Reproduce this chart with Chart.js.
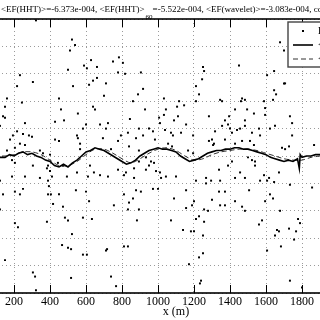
<!DOCTYPE html>
<html><head><meta charset="utf-8">
<script src="https://cdn.jsdelivr.net/npm/chart.js@4.4.1/dist/chart.umd.min.js"></script>
<style>
html,body{margin:0;padding:0;background:#fff;overflow:hidden;width:320px;height:320px;}
#wrap{position:relative;width:320px;height:320px;overflow:hidden;background:#fff;}
#c{position:absolute;left:-60px;top:0;}
</style></head>
<body><div id="wrap"><canvas id="c" width="450" height="320"></canvas></div>
<script>
// ---- data ----
const xRange = [0, 2200];
const xStep = 200;
const yRange = [-10, 10];   // EF, x 1e-3 (tick labels cropped in reference)
const yStep = 2;
const xLabel = 'x (m)';
const titleMain = '<EF(HHT)>=-6.373e-004, <EF(HHT)>';
const titleSub = '60';
const titleRest = '=-5.522e-004, <EF(wavelet)>=-3.083e-004, corr=0.87';
const seriesNames = ['EF(HHT)', '<EF(HHT)>60', '<EF(wavelet)>60'];

const efPoints = [
 [322,9.9],[522,8.5],[539,8.1],[511,7.7],[628,7.0],[589,6.6],[500,6.3],[605,6.4],[661,6.5],[233,5.9],
 [305,5.4],[217,5.1],[528,5.1],[617,5.2],[639,5.5],[661,5.7],[700,4.4],[161,4.2],[244,3.9],[450,4.2],
 [461,3.4],[639,3.6],[650,3.4],[150,3.6],[139,2.9],[150,2.8],[555,3.1],[261,2.4],[428,2.5],[478,2.6],
 [678,2.3],[600,2.3],[122,2.2],[217,1.8],[583,2.0],[250,1.6],[283,1.5],[300,1.4],[194,1.5],[178,1.2],
 [428,1.2],[450,1.1],[550,1.5],[567,0.9],[555,1.3],[694,1.3],[261,0.8],[233,0.9],[205,0.6],[161,0.4],
 [344,0.4],[361,0.2],[400,0.1],[567,0.5],[189,-0.3],[205,-0.5],[305,-0.7],[383,-0.9],[400,-1.1],[389,-0.7],
 [444,-0.5],[472,-0.7],[550,-1.2],[622,-0.7],[644,-1.2],[678,-1.4],[189,-1.5],[261,-1.5],[344,-1.6],[389,-1.8],
 [411,-1.5],[494,-1.5],[611,-1.5],[122,-1.8],[394,-2.2],[250,-2.4],[205,-2.6],[139,-2.8],[233,-2.8],[389,-2.8],
 [405,-2.8],[450,-2.8],[544,-2.5],[600,-2.6],[617,-3.3],[417,-3.5],[472,-3.7],[122,-3.9],[205,-4.9],[222,-5.2],
 [383,-4.8],[483,-4.5],[500,-4.7],[583,-4.5],[633,-4.6],[522,-5.7],[467,-6.5],[500,-6.7],[517,-6.8],[583,-7.2],
 [605,-7.2],[717,-6.8],[150,-7.6],[305,-8.5],[317,-8.8],[517,-8.9],[322,-9.8],
 [783,7.2],[750,6.9],[805,6.8],[711,5.3],[778,6.1],[817,6.0],[905,6.1],[1250,6.5],[1256,6.2],[1245,5.6],
 [917,4.9],[1211,5.1],[1228,4.5],[889,4.5],[1033,4.2],[861,4.0],[1117,4.0],[1145,3.7],[1106,3.6],[1211,4.0],
 [928,3.4],[1044,3.4],[1033,3.0],[1006,2.8],[1111,2.9],[1089,2.6],[844,2.7],[1011,2.4],[1156,2.3],[1283,2.9],
 [722,2.4],[711,2.0],[894,2.0],[950,2.0],[972,1.8],[1039,1.9],[1072,1.7],[794,1.5],[833,1.7],[917,1.5],
 [1083,1.5],[1128,1.7],[878,1.3],[1195,1.5],[778,1.1],[983,1.2],[1056,0.9],[1078,0.7],[1283,1.1],[1306,0.8],
 [739,0.5],[839,0.7],[894,0.4],[1167,0.4],[1195,0.2],[933,-0.1],[894,-0.4],[961,-0.4],[978,-0.5],[950,-0.7],
 [867,-0.9],[778,-1.0],[822,-1.2],[933,-1.0],[989,-1.1],[1011,-1.2],[811,-1.4],[1017,-1.6],[1044,-1.5],[1100,-1.5],
 [722,-1.5],[867,-1.6],[1267,-1.6],[1211,-1.8],[1267,-2.0],[1295,-1.8],[878,-2.5],[905,-2.6],[972,-2.4],[1000,-2.4],
 [1156,-2.5],[811,-2.8],[861,-3.1],[1089,-3.1],[839,-3.4],[755,-3.6],[1200,-3.3],[1156,-3.8],[1189,-3.6],[1256,-3.9],
 [1278,-4.0],[833,-3.9],[894,-3.9],[883,-4.7],[1072,-4.7],[1211,-4.6],[1228,-4.4],[1256,-4.8],[1139,-5.4],[1200,-5.5],
 [1183,-5.5],[1250,-5.8],[811,-6.6],[833,-6.6],[711,-6.9],[1250,-7.1],[1228,-7.4],[1172,-7.9],[739,-8.8],[767,-9.5],
 [1239,-9.1],[1233,-9.3],
 [1678,8.3],[1700,7.7],[1450,6.6],[1645,6.2],[1606,5.9],[1700,5.3],[1706,5.3],[1645,4.8],[1656,4.5],[1639,4.1],
 [1345,4.1],[1356,4.0],[1467,4.2],[1483,4.1],[1461,4.0],[1589,4.0],[1495,3.4],[1428,3.4],[1533,3.1],[1595,3.5],
 [1595,3.0],[1733,2.9],[1372,2.6],[1395,2.9],[1483,2.6],[1745,2.4],[1356,2.2],[1389,2.3],[1400,2.0],[1439,1.9],
 [1456,2.0],[1483,2.2],[1561,2.0],[1622,2.0],[1650,2.2],[1317,1.8],[1411,1.7],[1522,1.7],[1567,1.5],[1745,1.5],
 [1300,1.2],[1372,1.2],[1467,1.1],[1511,1.1],[1533,0.8],[1728,0.7],[1867,0.8],[1311,0.9],[1428,0.9],[1689,0.6],
 [1706,0.5],[1500,-0.1],[1522,-0.3],[1539,-0.4],[1411,-0.4],[1389,-0.7],[1539,-0.7],[1339,-1.0],[1456,-1.2],[1672,-1.2],
 [1589,-1.4],[1617,-1.6],[1428,-1.6],[1483,-1.6],[1606,-1.8],[1567,-1.8],[1345,-1.8],[1733,-2.1],[1645,-1.9],[1856,-2.3],
 [1506,-2.5],[1339,-2.6],[1372,-2.6],[1622,-2.8],[1639,-3.1],[1300,-3.2],[1595,-3.3],[1428,-3.3],[1372,-3.6],[1345,-3.6],
 [1467,-3.7],[1483,-4.0],[1678,-4.0],[1778,-4.6],[1578,-4.7],[1561,-5.0],[1789,-4.9],[1767,-5.5],[1661,-5.4],[1672,-5.5],
 [1728,-5.3],[1650,-5.8],[1756,-6.1],[1683,-6.6],[1606,-6.9],[1733,-9.1],[1800,-9.6]
];

const hhtX = [
 0,25,50,75,100,125,150,175,200,225,
 250,275,300,325,350,375,400,425,450,475,
 500,525,550,575,600,625,650,675,700,725,
 750,775,800,825,850,875,900,925,950,975,
 1000,1025,1050,1075,1100,1125,1150,1175,1200,1225,
 1250,1275,1300,1325,1350,1375,1400,1425,1450,1475,
 1500,1525,1550,1575,1600,1625,1650,1675,1700,1725,
 1750,1775,1785,1790,
 1800,1825,1850,1875,1900,1925,1950,1975,2000,
 2050,2100,2150,2200];
const hhtY = [
 -0.1,-0.2,-0.1,-0.2,0.0,-0.1,-0.1,0.1,0.0,0.2,
 0.3,0.1,0.2,0.0,-0.1,-0.3,-0.4,-0.7,-0.8,-0.6,
 -0.8,-0.5,-0.3,0.0,0.3,0.4,0.6,0.5,0.4,0.2,
 0.0,-0.2,-0.4,-0.6,-0.5,-0.3,0.0,0.2,0.4,0.5,
 0.6,0.5,0.5,0.4,0.3,0.0,-0.2,-0.4,-0.3,-0.2,
 0.0,0.2,0.3,0.4,0.4,0.5,0.5,0.6,0.6,0.5,
 0.5,0.4,0.3,0.2,0.1,-0.1,-0.2,-0.3,-0.4,-0.3,
 -0.4,-0.2,-0.9,0.1,
 -0.1,0.0,0.0,0.1,0.1,0.0,0.1,0.0,0.0,
 -0.1,0.0,0.1,0.0];

const waveX = [
 0,50,100,150,200,250,300,350,400,450,
 500,550,600,650,700,750,800,850,900,950,
 1000,1050,1100,1150,1200,1250,1300,1350,1400,1450,
 1500,1550,1600,1650,1700,1750,1800,1850,1900,1950,
 2000,2050,2100,2150,2200];
const waveY = [
 -0.1,-0.1,0.0,0.0,0.1,0.3,0.3,0.1,-0.3,-0.7,
 -0.7,-0.4,0.1,0.5,0.5,0.2,-0.2,-0.5,-0.2,0.2,
 0.5,0.6,0.4,0.0,-0.3,-0.2,0.1,0.3,0.4,0.5,
 0.5,0.4,0.2,0.0,-0.2,-0.3,-0.3,-0.1,0.0,0.1,
 0.0,0.0,0.0,0.1,0.0];

// ---- chart ----
const SERIF = '"Liberation Serif", "DejaVu Serif", serif';
const VIEW_OFFSET = 60; // canvas shifted left by this many px

const framePlugin = {
  id: 'frame',
  afterDraw(chart) {
    const {ctx, chartArea: a, scales} = chart;
    ctx.save();
    // inward tick marks
    ctx.strokeStyle = '#000'; ctx.lineWidth = 1;
    scales.x.ticks.forEach(t => {
      const px = Math.round(scales.x.getPixelForValue(t.value)) + 0.5;
      ctx.beginPath();
      ctx.moveTo(px, a.top); ctx.lineTo(px, a.top + 8);
      ctx.moveTo(px, a.bottom); ctx.lineTo(px, a.bottom - 8);
      ctx.stroke();
    });
    scales.y.ticks.forEach(t => {
      const py = Math.round(scales.y.getPixelForValue(t.value)) + 0.5;
      ctx.beginPath();
      ctx.moveTo(a.left, py); ctx.lineTo(a.left + 8, py);
      ctx.moveTo(a.right, py); ctx.lineTo(a.right - 8, py);
      ctx.stroke();
    });
    // frame
    ctx.lineWidth = 1.6;
    ctx.strokeRect(a.left, a.top, a.right - a.left, a.bottom - a.top);

    // legend (inside, top right)
    const ds = chart.data.datasets;
    const bx = a.right - 86, by = a.top + 3, bw = 120, bh = 45;
    ctx.fillStyle = '#fff';
    ctx.fillRect(bx, by, bw, bh);
    ctx.strokeStyle = '#444'; ctx.lineWidth = 1.4;
    ctx.strokeRect(bx, by, bw, bh);
    const rows = [by + 9, by + 23, by + 37];
    ctx.font = '10px ' + SERIF;
    ctx.textBaseline = 'middle';
    ds.forEach((d, i) => {
      const y = rows[i];
      if (i === 0) {
        ctx.fillStyle = d.pointBackgroundColor;
        ctx.fillRect(bx + 14, y - 1, 2, 2);
      } else {
        ctx.strokeStyle = d.borderColor;
        ctx.lineWidth = d.borderWidth;
        ctx.setLineDash(d.borderDash || []);
        ctx.beginPath(); ctx.moveTo(bx + 5, y); ctx.lineTo(bx + 25, y); ctx.stroke();
        ctx.setLineDash([]);
      }
      ctx.fillStyle = '#000';
      ctx.fillText(d.label, bx + 30, y);
    });

    // title
    ctx.fillStyle = '#000';
    ctx.textBaseline = 'alphabetic';
    ctx.font = '9px ' + SERIF;
    let tx = VIEW_OFFSET + 1;
    ctx.fillText(titleMain, tx, 11.5);
    tx += ctx.measureText(titleMain).width + 1;
    ctx.font = '7px ' + SERIF;
    ctx.fillText(titleSub, tx, 18.5);
    tx += ctx.measureText(titleSub).width;
    ctx.font = '9px ' + SERIF;
    ctx.fillText(titleRest, tx, 11.5);
    ctx.restore();
  }
};

new Chart(document.getElementById('c'), {
  type: 'scatter',
  data: {
    datasets: [
      {
        label: seriesNames[0],
        data: efPoints.map(p => ({x: p[0], y: p[1]})),
        showLine: false,
        pointStyle: 'rect',
        pointRadius: 1.4,
        pointBorderWidth: 0,
        pointBackgroundColor: '#000',
        borderColor: '#000',
        order: 3
      },
      {
        label: seriesNames[1],
        data: hhtX.map((x, i) => ({x, y: hhtY[i]})),
        showLine: true,
        borderColor: '#000',
        borderWidth: 1.6,
        pointRadius: 0,
        tension: 0,
        order: 1
      },
      {
        label: seriesNames[2],
        data: waveX.map((x, i) => ({x, y: waveY[i]})),
        showLine: true,
        borderColor: '#333',
        borderWidth: 1,
        borderDash: [5, 3],
        pointRadius: 0,
        tension: 0.3,
        order: 2
      }
    ]
  },
  options: {
    responsive: false,
    animation: false,
    devicePixelRatio: 1,
    layout: {padding: {left: 0, right: 16, top: 19, bottom: 0}},
    plugins: {legend: {display: false}, tooltip: {enabled: false}, title: {display: false}},
    scales: {
      x: {
        type: 'linear', min: xRange[0], max: xRange[1],
        ticks: {stepSize: xStep, color: '#000', padding: 2, maxRotation: 0, autoSkip: false,
                font: {family: SERIF, size: 12}, callback: v => String(v)},
        grid: {color: '#9a9a9a', lineWidth: 1, drawTicks: false},
        border: {display: false, dash: [1, 3]},
        title: {display: true, text: xLabel, color: '#000', font: {family: SERIF, size: 12},
                padding: {top: 0, bottom: 1}},
        afterFit(s) { s.height = 27; }
      },
      y: {
        type: 'linear', min: yRange[0], max: yRange[1],
        ticks: {stepSize: yStep, display: false},
        grid: {color: '#9a9a9a', lineWidth: 1, drawTicks: false},
        border: {display: false, dash: [1, 3]},
        afterFit(s) { s.width = 38; }
      }
    }
  },
  plugins: [framePlugin]
});
</script>
</body></html>
